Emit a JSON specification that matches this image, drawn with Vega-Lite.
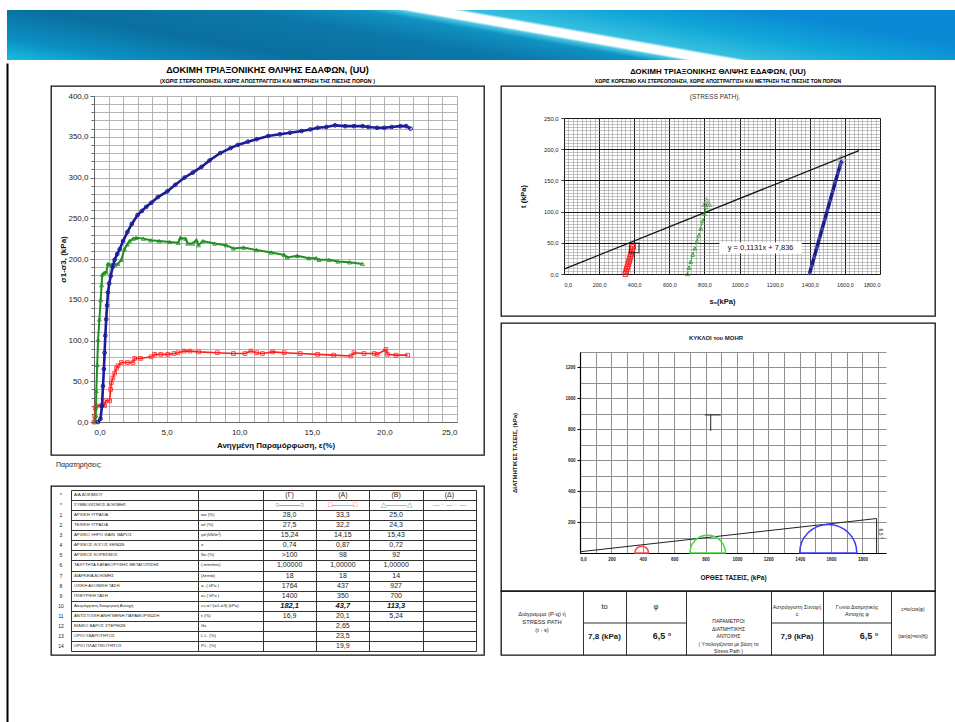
{
"$schema": "https://vega.github.io/schema/vega-lite/v6.json",
"background": "white",
"padding": {"left": 7, "top": 10, "right": 0, "bottom": 0},
"config": {
  "font": "Liberation Sans",
  "locale": {"number": {"decimal": ",", "thousands": ".", "grouping": [3], "currency": ["", " €"]}},
  "view": {"stroke": "#111", "strokeWidth": 1.3},
  "axis": {"labelColor": "#222", "titleColor": "#111"}
},
"datasets": {
  "ss": [
    {"g":"Γ","e":0.28,"q":0},{"g":"Γ","e":0.45,"q":4},{"g":"Γ","e":0.55,"q":20},{"g":"Γ","e":0.62,"q":44},{"g":"Γ","e":0.68,"q":65},{"g":"Γ","e":0.73,"q":85},{"g":"Γ","e":0.78,"q":106},{"g":"Γ","e":0.84,"q":126},{"g":"Γ","e":0.9,"q":143},{"g":"Γ","e":0.96,"q":159},{"g":"Γ","e":1.05,"q":170},{"g":"Γ","e":1.15,"q":179},{"g":"Γ","e":1.28,"q":190},{"g":"Γ","e":1.42,"q":199},{"g":"Γ","e":1.6,"q":206},{"g":"Γ","e":1.77,"q":212},{"g":"Γ","e":2.0,"q":222},{"g":"Γ","e":2.3,"q":233},{"g":"Γ","e":2.6,"q":243},{"g":"Γ","e":3.0,"q":254},{"g":"Γ","e":3.3,"q":259},{"g":"Γ","e":3.6,"q":264},{"g":"Γ","e":3.95,"q":269},{"g":"Γ","e":4.4,"q":276},{"g":"Γ","e":5.05,"q":283},{"g":"Γ","e":5.6,"q":291},{"g":"Γ","e":6.24,"q":300},{"g":"Γ","e":6.8,"q":306},{"g":"Γ","e":7.4,"q":313},{"g":"Γ","e":7.96,"q":321},{"g":"Γ","e":8.7,"q":330},{"g":"Γ","e":9.4,"q":336},{"g":"Γ","e":9.9,"q":340},{"g":"Γ","e":10.6,"q":344},{"g":"Γ","e":11.2,"q":347},{"g":"Γ","e":12.0,"q":351},{"g":"Γ","e":12.8,"q":353},{"g":"Γ","e":13.5,"q":355},{"g":"Γ","e":14.3,"q":357},{"g":"Γ","e":14.9,"q":359},{"g":"Γ","e":15.4,"q":361},{"g":"Γ","e":16.0,"q":362},{"g":"Γ","e":16.6,"q":364},{"g":"Γ","e":17.3,"q":363},{"g":"Γ","e":17.9,"q":363},{"g":"Γ","e":18.5,"q":363},{"g":"Γ","e":18.9,"q":362},{"g":"Γ","e":19.5,"q":361},{"g":"Γ","e":20.0,"q":361},{"g":"Γ","e":20.5,"q":362},{"g":"Γ","e":21.1,"q":363},{"g":"Γ","e":21.5,"q":363},{"g":"Γ","e":21.8,"q":360},
    {"g":"Β","e":0.1,"q":0},{"g":"Β","e":0.12,"q":8},{"g":"Β","e":0.16,"q":38},{"g":"Β","e":0.22,"q":70},{"g":"Β","e":0.28,"q":101},{"g":"Β","e":0.37,"q":126},{"g":"Β","e":0.46,"q":150},{"g":"Β","e":0.52,"q":168},{"g":"Β","e":0.57,"q":181},{"g":"Β","e":0.7,"q":183},{"g":"Β","e":0.85,"q":184},{"g":"Β","e":0.96,"q":194},{"g":"Β","e":1.2,"q":193},{"g":"Β","e":1.45,"q":193},{"g":"Β","e":1.65,"q":194},{"g":"Β","e":1.88,"q":199},{"g":"Β","e":2.1,"q":212},{"g":"Β","e":2.3,"q":218},{"g":"Β","e":2.45,"q":222},{"g":"Β","e":2.7,"q":225},{"g":"Β","e":2.9,"q":226},{"g":"Β","e":3.4,"q":225},{"g":"Β","e":3.9,"q":223},{"g":"Β","e":4.5,"q":222},{"g":"Β","e":5.2,"q":221},{"g":"Β","e":5.8,"q":220},{"g":"Β","e":5.95,"q":226},{"g":"Β","e":6.3,"q":225},{"g":"Β","e":6.45,"q":219},{"g":"Β","e":6.8,"q":219},{"g":"Β","e":7.05,"q":223},{"g":"Β","e":7.2,"q":217},{"g":"Β","e":7.5,"q":222},{"g":"Β","e":8.3,"q":219},{"g":"Β","e":9.1,"q":217},{"g":"Β","e":9.6,"q":213},{"g":"Β","e":10.3,"q":214},{"g":"Β","e":11.2,"q":211},{"g":"Β","e":12.2,"q":208},{"g":"Β","e":13.1,"q":205},{"g":"Β","e":13.3,"q":202},{"g":"Β","e":14.0,"q":204},{"g":"Β","e":14.8,"q":201},{"g":"Β","e":15.3,"q":201},{"g":"Β","e":15.5,"q":199},{"g":"Β","e":16.2,"q":199},{"g":"Β","e":16.8,"q":197},{"g":"Β","e":17.6,"q":196},{"g":"Β","e":18.5,"q":194},
    {"g":"Α","e":0.0,"q":0},{"g":"Α","e":0.05,"q":7},{"g":"Α","e":0.1,"q":17},{"g":"Α","e":0.16,"q":20},{"g":"Α","e":0.5,"q":20},{"g":"Α","e":0.73,"q":20},{"g":"Α","e":0.8,"q":26},{"g":"Α","e":1.08,"q":26},{"g":"Α","e":1.15,"q":40},{"g":"Α","e":1.19,"q":48},{"g":"Α","e":1.3,"q":54},{"g":"Α","e":1.42,"q":60},{"g":"Α","e":1.55,"q":66},{"g":"Α","e":1.65,"q":69},{"g":"Α","e":1.88,"q":73},{"g":"Α","e":2.3,"q":73},{"g":"Α","e":2.68,"q":73},{"g":"Α","e":2.8,"q":78},{"g":"Α","e":3.2,"q":78},{"g":"Α","e":3.94,"q":80},{"g":"Α","e":4.17,"q":83},{"g":"Α","e":4.6,"q":83},{"g":"Α","e":5.09,"q":83},{"g":"Α","e":5.5,"q":84},{"g":"Α","e":5.78,"q":85},{"g":"Α","e":6.2,"q":87},{"g":"Α","e":6.6,"q":87},{"g":"Α","e":7.2,"q":86},{"g":"Α","e":8.5,"q":85},{"g":"Α","e":9.6,"q":84},{"g":"Α","e":10.4,"q":84},{"g":"Α","e":10.8,"q":87},{"g":"Α","e":11.2,"q":85},{"g":"Α","e":11.6,"q":84},{"g":"Α","e":12.3,"q":86},{"g":"Α","e":13.1,"q":85},{"g":"Α","e":14.2,"q":84},{"g":"Α","e":15.4,"q":83},{"g":"Α","e":16.5,"q":82},{"g":"Α","e":17.7,"q":81},{"g":"Α","e":17.9,"q":85},{"g":"Α","e":18.6,"q":84},{"g":"Α","e":19.3,"q":84},{"g":"Α","e":19.5,"q":83},{"g":"Α","e":20.1,"q":89},{"g":"Α","e":20.2,"q":83},{"g":"Α","e":20.8,"q":82},{"g":"Α","e":21.6,"q":82}
  ],
  "sp": [
    {"g":"Α","s":350,"t":0},{"g":"Α","s":354,"t":4},{"g":"Α","s":358,"t":8},{"g":"Α","s":362,"t":12},{"g":"Α","s":366,"t":16},{"g":"Α","s":370,"t":20},{"g":"Α","s":374,"t":24},{"g":"Α","s":378,"t":28},{"g":"Α","s":382,"t":32},{"g":"Α","s":386,"t":36},{"g":"Α","s":390,"t":40},{"g":"Α","s":393.5,"t":43.7},
    {"g":"Β","s":703,"t":0},{"g":"Β","s":712,"t":10},{"g":"Β","s":722,"t":20},{"g":"Β","s":733,"t":31},{"g":"Β","s":745,"t":41},{"g":"Β","s":757,"t":52},{"g":"Β","s":768,"t":62},{"g":"Β","s":779,"t":73},{"g":"Β","s":790,"t":85},{"g":"Β","s":800,"t":97},{"g":"Β","s":808,"t":107},{"g":"Β","s":813.5,"t":113.3},
    {"g":"Γ","s":1398,"t":0},{"g":"Γ","s":1410,"t":12},{"g":"Γ","s":1425,"t":27},{"g":"Γ","s":1440,"t":42},{"g":"Γ","s":1455,"t":57},{"g":"Γ","s":1470,"t":72},{"g":"Γ","s":1485,"t":87},{"g":"Γ","s":1500,"t":102},{"g":"Γ","s":1515,"t":117},{"g":"Γ","s":1530,"t":132},{"g":"Γ","s":1545,"t":147},{"g":"Γ","s":1560,"t":162},{"g":"Γ","s":1572,"t":173},{"g":"Γ","s":1582,"t":182.1}
  ],
  "tblL": [
    {"k":"h1","n":"*","d":"Α/Α ΔΟΚΙΜΙΟΥ","u":"","G":"(Γ)","A":"(Α)","B":"(Β)","D":"(Δ)"},
    {"k":"h2","n":"*","d":"ΣΥΜΒΟΛΙΣΜΟΣ ΔΟΚΙΜΗΣ","u":"","G":"○———○","A":"□———□","B":"△———△","D":"— · — · —"},
    {"k":"1","n":"1","d":"ΑΡΧΙΚΗ ΥΓΡΑΣΙΑ","u":"wo   (%)","G":"28,0","A":"33,3","B":"25,0","D":""},
    {"k":"2","n":"2","d":"ΤΕΛΙΚΗ ΥΓΡΑΣΙΑ","u":"wf   (%)","G":"27,5","A":"32,2","B":"24,3","D":""},
    {"k":"3","n":"3","d":"ΑΡΧΙΚΟ ΞΗΡΟ ΦΑΙΝ. ΒΑΡΟΣ","u":"γd  (kN/m³)","G":"15,24","A":"14,15","B":"15,43","D":""},
    {"k":"4","n":"4","d":"ΑΡΧΙΚΟΣ ΛΟΓΟΣ ΚΕΝΩΝ","u":"e","G":"0,74","A":"0,87","B":"0,72","D":""},
    {"k":"5","n":"5","d":"ΑΡΧΙΚΟΣ ΚΟΡΕΣΜΟΣ","u":"So  (%)","G":">100","A":"98","B":"92","D":""},
    {"k":"6","n":"6","d":"ΤΑΧΥΤΗΤΑ ΚΑΤΑΚΟΡΥΦΗΣ ΜΕΤΑΤΟΠΙΣΗΣ","u":"( mm/min)","G":"1,00000","A":"1,00000","B":"1,00000","D":""},
    {"k":"7","n":"7","d":"ΔΙΑΡΚΕΙΑ ΔΟΚΙΜΗΣ","u":"(λεπτά)","G":"18","A":"18","B":"14","D":""},
    {"k":"8","n":"8","d":"ΟΛΙΚΗ ΑΞΟΝΙΚΗ ΤΑΣΗ","u":"σ₁ ( kPa )","G":"1764","A":"437","B":"927","D":""},
    {"k":"9","n":"9","d":"ΠΛΕΥΡΙΚΗ ΤΑΣΗ","u":"σ₃ ( kPa )","G":"1400","A":"350","B":"700","D":""},
    {"k":"10","n":"10","d":"Αστράγγιστη διατμητική Αντοχή","u":"cu =½(σ1-σ3) (kPa)","G":"182,1","A":"43,7","B":"113,3","D":""},
    {"k":"11","n":"11","d":"ΑΝΤΙΣΤΟΙΧΗ ΑΝΗΓΜΕΝΗ ΠΑΡΑΜΟΡΦΩΣΗ","u":"ε (%)","G":"16,9","A":"20,1","B":"5,24","D":""},
    {"k":"12","n":"12","d":"ΕΙΔΙΚΟ ΒΑΡΟΣ ΣΤΕΡΕΩΝ","u":"Gs","G":"","A":"2,65","B":"","D":""},
    {"k":"13","n":"13","d":"ΟΡΙΟ ΥΔΑΡΟΤΗΤΟΣ","u":"L.L.  (%)","G":"","A":"23,5","B":"","D":""},
    {"k":"14","n":"14","d":"ΟΡΙΟ ΠΛΑΣΤΙΚΟΤΗΤΟΣ","u":"P.L.  (%)","G":"","A":"19,9","B":"","D":""}
  ]
},
"spacing": 0,
"resolve": {"scale": {"color": "independent", "shape": "independent", "radius": "independent"}},
"vconcat": [
  {
    "width": 948, "height": 50,
    "view": {"stroke": null},
    "data": {"values": [{}]},
    "mark": {"type": "rect", "color": {"gradient": "linear", "x1": 0, "y1": 1, "x2": 1, "y2": 0.7, "stops": [
      {"offset": 0, "color": "#14bfe0"}, {"offset": 0.12, "color": "#0b8fc3"}, {"offset": 0.3, "color": "#0a6f9f"}, {"offset": 0.5, "color": "#0c78aa"}, {"offset": 0.62, "color": "#0f92c2"}, {"offset": 0.652, "color": "#49c6e4"}, {"offset": 0.665, "color": "#ffffff"}, {"offset": 0.705, "color": "#ffffff"}, {"offset": 0.72, "color": "#34bfdf"}, {"offset": 0.85, "color": "#11a6d8"}, {"offset": 1, "color": "#0a8ad4"}]}},
    "encoding": {}
  },
  {
    "resolve": {"scale": {"color": "independent", "shape": "independent", "radius": "independent"}},
    "hconcat": [
      {
        "width": 28, "height": 662,
        "view": {"stroke": null},
        "data": {"values": [{"v": 0}, {"v": 1}]},
        "mark": {"type": "point", "opacity": 0},
        "encoding": {"y": {"field": "v", "type": "quantitative", "axis": {"domain": true, "domainColor": "#000", "domainWidth": 2, "labels": false, "ticks": false, "grid": false, "title": null}}}
      },
      {
        "resolve": {"scale": {"color": "independent", "shape": "independent", "radius": "independent"}},
        "vconcat": [
          {
            "width": 433, "height": 23,
            "data": {"values": [{}]},
            "layer": [
              {"mark": {"type": "text", "text": "ΔΟΚΙΜΗ ΤΡΙΑΞΟΝΙΚΗΣ ΘΛΙΨΗΣ ΕΔΑΦΩΝ, (UU)", "fontSize": 9, "fontWeight": "bold", "dy": -4.5}, "encoding": {}},
              {"mark": {"type": "text", "text": "(ΧΩΡΙΣ ΣΤΕΡΕΟΠΟΙΗΣΗ, ΧΩΡΙΣ ΑΠΟΣΤΡΑΓΓΙΣΗ ΚΑΙ ΜΕΤΡΗΣΗ ΤΗΣ ΠΙΕΣΗΣ ΠΟΡΩΝ )", "fontSize": 5.3, "fontWeight": "bold", "dy": 6.5}, "encoding": {}}
            ]
          },
          {
            "width": 433, "height": 369,
            "data": {"name": "ss"},
            "resolve": {"axis": {"x": "independent", "y": "independent"}},
            "layer": [
              {
                "mark": {"type": "point", "opacity": 0},
                "encoding": {
                  "x": {"field": "e", "type": "quantitative", "scale": {"domain": [0, 25], "range": [43, 406], "nice": false, "zero": false},
                        "axis": {"orient": "top", "values": [0,1,2,3,4,5,6,7,8,9,10,11,12,13,14,15,16,17,18,19,20,21,22,23,24,25], "grid": true, "gridColor": "#ababab", "gridWidth": 0.9, "labels": false, "ticks": false, "domain": false, "title": null}},
                  "y": {"field": "q", "type": "quantitative", "scale": {"domain": [0, 400], "range": [336, 10], "nice": false, "zero": false},
                        "axis": {"orient": "left", "offset": -43, "values": [0,10,20,30,40,50,60,70,80,90,100,110,120,130,140,150,160,170,180,190,200,210,220,230,240,250,260,270,280,290,300,310,320,330,340,350,360,370,380,390,400], "grid": true, "gridColor": "#ababab", "gridWidth": 0.9, "labels": false, "ticks": true, "tickSize": 3, "tickColor": "#666", "domain": false, "title": null}}
                }
              },
              {
                "mark": {"type": "point", "opacity": 0},
                "encoding": {
                  "x": {"field": "e", "type": "quantitative", "scale": {"domain": [0, 25], "range": [43, 406], "nice": false, "zero": false},
                        "axis": {"orient": "bottom", "offset": -33, "values": [0,5,10,15,20,25], "format": ".1f", "labelFontSize": 8, "ticks": false, "labelPadding": 6, "domainColor": "#666", "grid": false, "title": "Ανηγμένη Παραμόρφωση, ε(%)", "titleFontSize": 8, "titleFontWeight": "bold", "titlePadding": 5}},
                  "y": {"field": "q", "type": "quantitative", "scale": {"domain": [0, 400], "range": [336, 10], "nice": false, "zero": false},
                        "axis": {"orient": "left", "offset": -43, "values": [0,50,100,150,200,250,300,350,400], "format": ".1f", "labelFontSize": 8, "tickSize": 4, "tickColor": "#666", "labelPadding": 2, "domainColor": "#666", "grid": false, "title": "σ1-σ3, (kPa)", "titleFontSize": 8, "titleFontWeight": "bold", "titleX": -27}}
                }
              },
              {
                "transform": [{"filter": "datum.g === 'Α'"}],
                "mark": {"type": "line", "color": "#ff1f1f", "strokeWidth": 1.6, "point": {"shape": "square", "filled": false, "size": 14, "color": "#ff1f1f", "strokeWidth": 0.8}},
                "encoding": {
                  "x": {"field": "e", "type": "quantitative", "scale": {"domain": [0, 25], "range": [43, 406], "nice": false, "zero": false}, "axis": null},
                  "y": {"field": "q", "type": "quantitative", "scale": {"domain": [0, 400], "range": [336, 10], "nice": false, "zero": false}, "axis": null}
                }
              },
              {
                "transform": [{"filter": "datum.g === 'Β'"}],
                "mark": {"type": "line", "color": "#1f8f1f", "strokeWidth": 2, "point": {"shape": "triangle-up", "filled": false, "size": 16, "color": "#1f8f1f", "strokeWidth": 0.8}},
                "encoding": {
                  "x": {"field": "e", "type": "quantitative", "scale": {"domain": [0, 25], "range": [43, 406], "nice": false, "zero": false}, "axis": null},
                  "y": {"field": "q", "type": "quantitative", "scale": {"domain": [0, 400], "range": [336, 10], "nice": false, "zero": false}, "axis": null}
                }
              },
              {
                "transform": [{"filter": "datum.g === 'Γ'"}],
                "mark": {"type": "line", "color": "#1c1c96", "strokeWidth": 2.6, "point": {"shape": "circle", "filled": false, "size": 14, "color": "#1c1c96", "strokeWidth": 1}},
                "encoding": {
                  "x": {"field": "e", "type": "quantitative", "scale": {"domain": [0, 25], "range": [43, 406], "nice": false, "zero": false}, "axis": null},
                  "y": {"field": "q", "type": "quantitative", "scale": {"domain": [0, 400], "range": [336, 10], "nice": false, "zero": false}, "axis": null}
                }
              }
            ]
          },
          {
            "width": 433, "height": 31,
            "data": {"values": [{}]},
            "mark": {"type": "text", "text": "Παρατηρήσεις:", "align": "left", "fontSize": 7, "dx": -211.5, "dy": -5.5, "color": "#222"},
            "encoding": {}
          },
          {
            "width": 433, "height": 169,
            "data": {"name": "tblL"},
            "resolve": {"scale": {"x": "independent"}, "axis": {"x": "independent", "y": "independent"}},
            "layer": [
              {
                "mark": {"type": "text", "fontSize": 5, "dx": -10, "color": "#222"},
                "encoding": {
                  "x": {"datum": 0, "type": "quantitative", "scale": {"domain": [0,1,2,3,4,5,6], "range": [20,147,212,265,318,372,425], "nice": false, "zero": false},
                        "axis": {"orient": "top", "values": [0,1,2,3,4,5,6], "grid": true, "gridColor": "#333", "gridWidth": 1, "labels": false, "ticks": false, "domain": false, "title": null}},
                  "y": {"field": "k", "type": "nominal", "scale": {"type": "band", "domain": ["h1","h2","1","2","3","4","5","6","7","8","9","10","11","12","13","14"], "range": [4, 165], "paddingInner": 0, "paddingOuter": 0},
                        "axis": {"orient": "left", "tickBand": "extent", "grid": true, "gridColor": "#333", "gridWidth": 1, "labels": false, "ticks": false, "domain": false, "title": null}},
                  "text": {"field": "n"}
                }
              },
              {
                "mark": {"type": "text", "fontSize": 4.3, "align": "left", "dx": 3, "color": "#222"},
                "encoding": {
                  "x": {"datum": 0, "type": "quantitative", "scale": {"domain": [0,1,2,3,4,5,6], "range": [20,147,212,265,318,372,425], "nice": false, "zero": false}, "axis": null},
                  "y": {"field": "k", "type": "nominal", "scale": {"type": "band", "domain": ["h1","h2","1","2","3","4","5","6","7","8","9","10","11","12","13","14"], "range": [4, 165], "paddingInner": 0, "paddingOuter": 0}, "axis": null},
                  "text": {"field": "d"}
                }
              },
              {
                "mark": {"type": "text", "fontSize": 4.3, "align": "left", "dx": 3, "color": "#222"},
                "encoding": {
                  "x": {"datum": 1, "type": "quantitative", "scale": {"domain": [0,1,2,3,4,5,6], "range": [20,147,212,265,318,372,425], "nice": false, "zero": false}, "axis": null},
                  "y": {"field": "k", "type": "nominal", "scale": {"type": "band", "domain": ["h1","h2","1","2","3","4","5","6","7","8","9","10","11","12","13","14"], "range": [4, 165], "paddingInner": 0, "paddingOuter": 0}, "axis": null},
                  "text": {"field": "u"}
                }
              },
              {
                "transform": [{"fold": ["G","A","B","D"], "as": ["key","val"]}, {"filter": "datum.k !== '10'"}],
                "mark": {"type": "text", "fontSize": 7},
                "encoding": {
                  "x": {"field": "key", "type": "nominal", "scale": {"type": "band", "domain": ["G","A","B","D"], "range": [212, 425], "paddingInner": 0, "paddingOuter": 0}, "axis": null},
                  "y": {"field": "k", "type": "nominal", "scale": {"type": "band", "domain": ["h1","h2","1","2","3","4","5","6","7","8","9","10","11","12","13","14"], "range": [4, 165], "paddingInner": 0, "paddingOuter": 0}, "axis": null},
                  "text": {"field": "val"},
                  "color": {"condition": {"test": "datum.k === 'h2'", "field": "key", "type": "nominal", "scale": {"domain": ["G","A","B","D"], "range": ["#3a3ad0","#ff3030","#30a030","#9a9a9a"]}, "legend": null}, "value": "#222"}
                }
              },
              {
                "transform": [{"fold": ["G","A","B"], "as": ["key","val"]}, {"filter": "datum.k === '10'"}],
                "mark": {"type": "text", "fontSize": 7.5, "fontWeight": "bold", "fontStyle": "italic", "color": "#111"},
                "encoding": {
                  "x": {"field": "key", "type": "nominal", "scale": {"type": "band", "domain": ["G","A","B","D"], "range": [212, 425], "paddingInner": 0, "paddingOuter": 0}, "axis": null},
                  "y": {"field": "k", "type": "nominal", "scale": {"type": "band", "domain": ["h1","h2","1","2","3","4","5","6","7","8","9","10","11","12","13","14"], "range": [4, 165], "paddingInner": 0, "paddingOuter": 0}, "axis": null},
                  "text": {"field": "val"}
                }
              }
            ]
          }
        ],
        "spacing": 0,
        "bounds": "flush"
      },
      {
        "resolve": {"scale": {"color": "independent", "shape": "independent", "radius": "independent"}},
        "vconcat": [
          {
            "width": 434, "height": 4,
            "view": {"stroke": null},
            "data": {"values": []},
            "mark": "point",
            "encoding": {}
          },
          {
            "width": 434, "height": 19,
            "data": {"values": [{}]},
            "layer": [
              {"mark": {"type": "text", "text": "ΔΟΚΙΜΗ ΤΡΙΑΞΟΝΙΚΗΣ ΘΛΙΨΗΣ ΕΔΑΦΩΝ, (UU)", "fontSize": 7.8, "fontWeight": "bold", "dy": -4.5}, "encoding": {}},
              {"mark": {"type": "text", "text": "ΧΩΡΙΣ ΚΟΡΕΣΜΟ ΚΑΙ ΣΤΕΡΕΟΠΟΙΗΣΗ, ΧΩΡΙΣ ΑΠΟΣΤΡΑΓΓΙΣΗ ΚΑΙ ΜΕΤΡΗΣΗ ΤΗΣ ΠΙΕΣΗΣ ΤΩΝ ΠΟΡΩΝ", "fontSize": 5, "fontWeight": "bold", "dy": 4}, "encoding": {}}
            ]
          },
          {
            "width": 434, "height": 230,
            "resolve": {"axis": {"x": "independent", "y": "independent"}},
            "layer": [
              {
                "data": {"name": "sp"},
                "mark": {"type": "point", "opacity": 0},
                "encoding": {
                  "x": {"field": "s", "type": "quantitative", "scale": {"domain": [0, 1800], "range": [63, 379], "nice": false, "zero": false},
                        "axis": {"orient": "top", "values": [0,25,50,75,100,125,150,175,200,225,250,275,300,325,350,375,400,425,450,475,500,525,550,575,600,625,650,675,700,725,750,775,800,825,850,875,900,925,950,975,1000,1025,1050,1075,1100,1125,1150,1175,1200,1225,1250,1275,1300,1325,1350,1375,1400,1425,1450,1475,1500,1525,1550,1575,1600,1625,1650,1675,1700,1725,1750,1775,1800], "grid": true, "gridColor": "#8c8c8c", "gridWidth": 0.5, "labels": false, "ticks": false, "domain": false, "title": null}},
                  "y": {"field": "t", "type": "quantitative", "scale": {"domain": [0, 250], "range": [188, 32], "nice": false, "zero": false},
                        "axis": {"orient": "left", "values": [0,5,10,15,20,25,30,35,40,45,50,55,60,65,70,75,80,85,90,95,100,105,110,115,120,125,130,135,140,145,150,155,160,165,170,175,180,185,190,195,200,205,210,215,220,225,230,235,240,245,250], "grid": true, "gridColor": "#8c8c8c", "gridWidth": 0.5, "labels": false, "ticks": false, "domain": false, "title": null}}
                }
              },
              {
                "data": {"name": "sp"},
                "mark": {"type": "point", "opacity": 0},
                "encoding": {
                  "x": {"field": "s", "type": "quantitative", "scale": {"domain": [0, 1800], "range": [63, 379], "nice": false, "zero": false},
                        "axis": {"orient": "top", "values": [0,200,400,600,800,1000,1200,1400,1600,1800], "grid": true, "gridColor": "#1a1a1a", "gridWidth": 1, "labels": false, "ticks": false, "domain": false, "title": null}},
                  "y": {"field": "t", "type": "quantitative", "scale": {"domain": [0, 250], "range": [188, 32], "nice": false, "zero": false},
                        "axis": {"orient": "left", "offset": -63, "values": [0,50,100,150,200,250], "format": ".1f", "grid": true, "gridColor": "#1a1a1a", "gridWidth": 1, "labelFontSize": 5.8, "tickSize": 3, "tickColor": "#333", "labelPadding": 3, "domain": false, "title": "t (kPa)", "titleFontSize": 7.5, "titleFontWeight": "bold", "titleX": -37}}
                }
              },
              {
                "data": {"name": "sp"},
                "mark": {"type": "point", "opacity": 0},
                "encoding": {
                  "x": {"field": "s", "type": "quantitative", "scale": {"domain": [0, 1800], "range": [63, 379], "nice": false, "zero": false},
                        "axis": {"orient": "bottom", "offset": -42, "values": [0,200,400,600,800,1000,1200,1400,1600,1800], "format": ".1f", "labelFontSize": 5.5, "ticks": false, "labelPadding": 8, "domain": false, "grid": false, "title": "s₀(kPa)", "titleFontSize": 7.5, "titleFontWeight": "bold", "titlePadding": 10}},
                  "y": {"field": "t", "type": "quantitative", "scale": {"domain": [0, 250], "range": [188, 32], "nice": false, "zero": false}, "axis": null}
                }
              },
              {
                "data": {"values": [{"s": 0, "t": 7.8}, {"s": 1680, "t": 197.8}]},
                "mark": {"type": "line", "color": "#111", "strokeWidth": 1.2},
                "encoding": {
                  "x": {"field": "s", "type": "quantitative", "scale": {"domain": [0, 1800], "range": [63, 379], "nice": false, "zero": false}, "axis": null},
                  "y": {"field": "t", "type": "quantitative", "scale": {"domain": [0, 250], "range": [188, 32], "nice": false, "zero": false}, "axis": null}
                }
              },
              {
                "data": {"values": [{}]},
                "mark": {"type": "rect", "fill": "white"},
                "encoding": {
                  "x": {"datum": 885, "type": "quantitative", "scale": {"domain": [0, 1800], "range": [63, 379], "nice": false, "zero": false}, "axis": null},
                  "x2": {"datum": 1355},
                  "y": {"datum": 33, "type": "quantitative", "scale": {"domain": [0, 250], "range": [188, 32], "nice": false, "zero": false}, "axis": null},
                  "y2": {"datum": 51}
                }
              },
              {
                "data": {"values": [{"s": 1120, "t": 42, "label": "y = 0,1131x + 7,836"}]},
                "mark": {"type": "text", "fontSize": 7.5, "color": "#111"},
                "encoding": {
                  "x": {"field": "s", "type": "quantitative", "scale": {"domain": [0, 1800], "range": [63, 379], "nice": false, "zero": false}, "axis": null},
                  "y": {"field": "t", "type": "quantitative", "scale": {"domain": [0, 250], "range": [188, 32], "nice": false, "zero": false}, "axis": null},
                  "text": {"field": "label"}
                }
              },
              {
                "data": {"name": "sp"},
                "transform": [{"filter": "datum.g === 'Α'"}],
                "mark": {"type": "line", "color": "#ff2020", "strokeWidth": 1.5, "point": {"shape": "square", "filled": false, "size": 22, "color": "#ff2020", "strokeWidth": 1}},
                "encoding": {
                  "x": {"field": "s", "type": "quantitative", "scale": {"domain": [0, 1800], "range": [63, 379], "nice": false, "zero": false}, "axis": null},
                  "y": {"field": "t", "type": "quantitative", "scale": {"domain": [0, 250], "range": [188, 32], "nice": false, "zero": false}, "axis": null}
                }
              },
              {
                "data": {"name": "sp"},
                "transform": [{"filter": "datum.g === 'Β'"}],
                "mark": {"type": "line", "color": "#2a9a2a", "strokeWidth": 1, "strokeDash": [3, 2], "point": {"shape": "triangle-up", "filled": false, "size": 16, "color": "#2a9a2a", "strokeWidth": 0.8}},
                "encoding": {
                  "x": {"field": "s", "type": "quantitative", "scale": {"domain": [0, 1800], "range": [63, 379], "nice": false, "zero": false}, "axis": null},
                  "y": {"field": "t", "type": "quantitative", "scale": {"domain": [0, 250], "range": [188, 32], "nice": false, "zero": false}, "axis": null}
                }
              },
              {
                "data": {"name": "sp"},
                "transform": [{"filter": "datum.g === 'Γ'"}],
                "mark": {"type": "line", "color": "#1a1a8c", "strokeWidth": 3.5, "point": {"shape": "circle", "filled": false, "size": 6, "color": "#7d7dc8", "strokeWidth": 0.6}},
                "encoding": {
                  "x": {"field": "s", "type": "quantitative", "scale": {"domain": [0, 1800], "range": [63, 379], "nice": false, "zero": false}, "axis": null},
                  "y": {"field": "t", "type": "quantitative", "scale": {"domain": [0, 250], "range": [188, 32], "nice": false, "zero": false}, "axis": null}
                }
              },
              {
                "data": {"values": [{"g": "Α", "s": 400, "t": 42}, {"g": "Β", "s": 813.5, "t": 115}, {"g": "Γ", "s": 1582, "t": 183}]},
                "mark": {"type": "point", "filled": false, "size": 90, "strokeWidth": 1.2},
                "encoding": {
                  "x": {"field": "s", "type": "quantitative", "scale": {"domain": [0, 1800], "range": [63, 379], "nice": false, "zero": false}, "axis": null},
                  "y": {"field": "t", "type": "quantitative", "scale": {"domain": [0, 250], "range": [188, 32], "nice": false, "zero": false}, "axis": null},
                  "shape": {"field": "g", "type": "nominal", "scale": {"domain": ["Α","Β","Γ"], "range": ["square","triangle-up","diamond"]}, "legend": null},
                  "color": {"field": "g", "type": "nominal", "scale": {"domain": ["Α","Β","Γ"], "range": ["#111","#888","#888"]}, "legend": null}
                }
              },
              {
                "data": {"values": [{}]},
                "mark": {"type": "text", "text": "(STRESS PATH),", "fontSize": 6.5, "color": "#333", "dx": -3, "dy": -104},
                "encoding": {}
              }
            ]
          },
          {
            "width": 434, "height": 7,
            "view": {"stroke": null},
            "data": {"values": []},
            "mark": "point",
            "encoding": {}
          },
          {
            "width": 434, "height": 268,
            "resolve": {"axis": {"x": "independent", "y": "independent"}},
            "layer": [
              {
                "data": {"values": [{}]},
                "mark": {"type": "point", "opacity": 0},
                "encoding": {
                  "x": {"datum": 0, "type": "quantitative", "scale": {"domain": [0, 1950], "range": [79, 385], "nice": false, "zero": false},
                        "axis": {"orient": "top", "values": [0,100,200,300,400,500,600,700,800,900,1000,1100,1200,1300,1400,1500,1600,1700,1800,1900], "grid": true, "gridColor": "#8f8f8f", "gridWidth": 1, "labels": false, "ticks": false, "domain": false, "title": null}},
                  "y": {"datum": 0, "type": "quantitative", "scale": {"domain": [0, 1300], "range": [230, 29], "nice": false, "zero": false},
                        "axis": {"orient": "left", "values": [0,100,200,300,400,500,600,700,800,900,1000,1100,1200,1300], "grid": true, "gridColor": "#8f8f8f", "gridWidth": 1, "labels": false, "ticks": false, "domain": false, "title": null}}
                }
              },
              {
                "data": {"values": [{}]},
                "mark": {"type": "point", "opacity": 0},
                "encoding": {
                  "x": {"datum": 0, "type": "quantitative", "scale": {"domain": [0, 1950], "range": [79, 385], "nice": false, "zero": false},
                        "axis": {"orient": "bottom", "offset": -38, "values": [0,200,400,600,800,1000,1200,1400,1600,1800], "format": "d", "labelExpr": "datum.value === 0 ? '0,0' : datum.label", "labelFontSize": 4.5, "labelFontWeight": "bold", "ticks": false, "labelPadding": 3, "domainColor": "#000", "domainWidth": 1.2, "grid": false, "title": "ΟΡΘΕΣ ΤΑΣΕΙΣ, (kPa)", "titleFontSize": 6.5, "titleFontWeight": "bold", "titlePadding": 14}},
                  "y": {"datum": 0, "type": "quantitative", "scale": {"domain": [0, 1300], "range": [230, 29], "nice": false, "zero": false},
                        "axis": {"orient": "left", "offset": -79, "values": [200,400,600,800,1000,1200], "format": "d", "labelFontSize": 4.5, "labelFontWeight": "bold", "tickSize": 3, "tickColor": "#000", "labelPadding": 2, "domainColor": "#000", "domainWidth": 1.2, "grid": false, "title": "ΔΙΑΤΜΗΤΙΚΕΣ ΤΑΣΕΙΣ, (kPa)", "titleFontSize": 6, "titleFontWeight": "bold", "titleX": -63}}
                }
              },
              {
                "data": {"values": [{"x": 0, "y": 7.9}, {"x": 1890, "y": 223}]},
                "mark": {"type": "line", "color": "#222", "strokeWidth": 1},
                "encoding": {
                  "x": {"field": "x", "type": "quantitative", "scale": {"domain": [0, 1950], "range": [79, 385], "nice": false, "zero": false}, "axis": null},
                  "y": {"field": "y", "type": "quantitative", "scale": {"domain": [0, 1300], "range": [230, 29], "nice": false, "zero": false}, "axis": null}
                }
              },
              {
                "data": {"values": [{"x": 1890, "y": 0, "y2": 223}, {"x": 795, "x2": 897, "y": 893, "y2": 893}, {"x": 833, "x2": 833, "y": 893, "y2": 790}]},
                "mark": {"type": "rule", "color": "#222", "strokeWidth": 1},
                "encoding": {
                  "x": {"field": "x", "type": "quantitative", "scale": {"domain": [0, 1950], "range": [79, 385], "nice": false, "zero": false}, "axis": null},
                  "x2": {"field": "x2"},
                  "y": {"field": "y", "type": "quantitative", "scale": {"domain": [0, 1300], "range": [230, 29], "nice": false, "zero": false}, "axis": null},
                  "y2": {"field": "y2"}
                }
              },
              {
                "data": {"values": [{"g": "Γ", "c": 1582, "r": 182.1}, {"g": "Α", "c": 393.5, "r": 43.7}, {"g": "Β", "c": 813.5, "r": 113.3}]},
                "mark": {"type": "arc", "theta": -1.5708, "theta2": 1.5708, "filled": false, "strokeWidth": 1.5},
                "encoding": {
                  "x": {"field": "c", "type": "quantitative", "stack": null, "scale": {"domain": [0, 1950], "range": [79, 385], "nice": false, "zero": false}, "axis": null},
                  "y": {"datum": 0, "type": "quantitative", "scale": {"domain": [0, 1300], "range": [230, 29], "nice": false, "zero": false}, "axis": null},
                  "radius": {"field": "r", "type": "quantitative", "stack": null, "scale": {"type": "linear", "domain": [0, 1950], "range": [0, 306], "zero": true, "nice": false}},
                  "color": {"field": "g", "type": "nominal", "scale": {"domain": ["Γ","Α","Β"], "range": ["#3b3bff","#ff4a4a","#3ddc3d"]}, "legend": null}
                }
              },
              {
                "data": {"values": [{"x": 1918, "y": 125, "label": "6,5 °"}]},
                "mark": {"type": "text", "fontSize": 5, "angle": 90, "color": "#222"},
                "encoding": {
                  "x": {"field": "x", "type": "quantitative", "scale": {"domain": [0, 1950], "range": [79, 385], "nice": false, "zero": false}, "axis": null},
                  "y": {"field": "y", "type": "quantitative", "scale": {"domain": [0, 1300], "range": [230, 29], "nice": false, "zero": false}, "axis": null},
                  "text": {"field": "label"}
                }
              },
              {
                "data": {"values": [{}]},
                "mark": {"type": "text", "text": "ΚΥΚΛΟΙ του MOHR", "fontSize": 6, "fontWeight": "bold", "color": "#222", "dx": -2, "dy": -119},
                "encoding": {}
              }
            ]
          },
          {
            "width": 434, "height": 64,
            "data": {"values": [
              {"r": "h", "to": "to", "phi": "φ", "c": ["Αστράγγιστη Συνοχή", "c"], "ang": ["Γωνία Διατμητικής", "Αντοχής φ"], "f": "c=to/cos(φ)"},
              {"r": "v", "to": "7,8 (kPa)", "phi": "6,5 °", "c": "7,9 (kPa)", "ang": "6,5 °", "f": "(tan(φ)=sin(θ))"}
            ]},
            "resolve": {"axis": {"x": "independent", "y": "independent"}},
            "layer": [
              {
                "transform": [{"filter": "datum.r === 'h'"}],
                "mark": {"type": "text", "text": ["Διάγραμμα (P-q) ή", "STRESS PATH", "(t - s)"], "fontSize": 5.8, "color": "#222"},
                "encoding": {
                  "x": {"datum": 0.5, "type": "quantitative", "scale": {"domain": [0,1,2,3,4,5,6,7], "range": [0,82,125,185,270,322,390,434], "nice": false, "zero": false},
                        "axis": {"orient": "top", "values": [1,2,3,4,5,6], "grid": true, "gridColor": "#333", "gridWidth": 1, "labels": false, "ticks": false, "domain": false, "title": null}},
                  "y": {"datum": 0.72, "type": "quantitative", "scale": {"domain": [0, 2], "range": [0, 64], "nice": false, "zero": false}, "axis": null}
                }
              },
              {
                "transform": [{"filter": "datum.r === 'h'"}],
                "mark": {"type": "rule", "color": "#333", "strokeWidth": 1},
                "encoding": {
                  "x": {"datum": 1, "type": "quantitative", "scale": {"domain": [0,1,2,3,4,5,6,7], "range": [0,82,125,185,270,322,390,434], "nice": false, "zero": false}, "axis": null},
                  "x2": {"datum": 3},
                  "y": {"datum": 1, "type": "quantitative", "scale": {"domain": [0, 2], "range": [0, 64], "nice": false, "zero": false}, "axis": null}
                }
              },
              {
                "transform": [{"filter": "datum.r === 'h'"}],
                "mark": {"type": "rule", "color": "#333", "strokeWidth": 1},
                "encoding": {
                  "x": {"datum": 4, "type": "quantitative", "scale": {"domain": [0,1,2,3,4,5,6,7], "range": [0,82,125,185,270,322,390,434], "nice": false, "zero": false}, "axis": null},
                  "x2": {"datum": 6},
                  "y": {"datum": 1, "type": "quantitative", "scale": {"domain": [0, 2], "range": [0, 64], "nice": false, "zero": false}, "axis": null}
                }
              },
              {
                "transform": [{"filter": "datum.r === 'h'"}],
                "mark": {"type": "text", "text": ["ΠΑΡΑΜΕΤΡΟΙ", "ΔΙΑΤΜΗΤΙΚΗΣ", "ΑΝΤΟΧΗΣ", "( Υπολογίζονται με βάση το", "Stress Path )"], "fontSize": 5, "lineHeight": 7.5, "color": "#222"},
                "encoding": {
                  "x": {"datum": 3.5, "type": "quantitative", "scale": {"domain": [0,1,2,3,4,5,6,7], "range": [0,82,125,185,270,322,390,434], "nice": false, "zero": false}, "axis": null},
                  "y": {"datum": 0.95, "type": "quantitative", "scale": {"domain": [0, 2], "range": [0, 64], "nice": false, "zero": false}, "axis": null}
                }
              },
              {
                "transform": [{"filter": "datum.r === 'h'"}],
                "layer": [
                  {"mark": {"type": "text", "fontSize": 7.5, "color": "#222"}, "encoding": {"x": {"datum": 1.5, "type": "quantitative", "scale": {"domain": [0,1,2,3,4,5,6,7], "range": [0,82,125,185,270,322,390,434], "nice": false, "zero": false}, "axis": null}, "y": {"datum": 0.5, "type": "quantitative", "scale": {"domain": [0, 2], "range": [0, 64], "nice": false, "zero": false}, "axis": null}, "text": {"field": "to"}}},
                  {"mark": {"type": "text", "fontSize": 7.5, "color": "#222"}, "encoding": {"x": {"datum": 2.5, "type": "quantitative", "scale": {"domain": [0,1,2,3,4,5,6,7], "range": [0,82,125,185,270,322,390,434], "nice": false, "zero": false}, "axis": null}, "y": {"datum": 0.5, "type": "quantitative", "scale": {"domain": [0, 2], "range": [0, 64], "nice": false, "zero": false}, "axis": null}, "text": {"field": "phi"}}},
                  {"mark": {"type": "text", "fontSize": 5.3, "color": "#222"}, "encoding": {"x": {"datum": 4.5, "type": "quantitative", "scale": {"domain": [0,1,2,3,4,5,6,7], "range": [0,82,125,185,270,322,390,434], "nice": false, "zero": false}, "axis": null}, "y": {"datum": 0.5, "type": "quantitative", "scale": {"domain": [0, 2], "range": [0, 64], "nice": false, "zero": false}, "axis": null}, "text": {"field": "c"}}},
                  {"mark": {"type": "text", "fontSize": 5.3, "color": "#222"}, "encoding": {"x": {"datum": 5.5, "type": "quantitative", "scale": {"domain": [0,1,2,3,4,5,6,7], "range": [0,82,125,185,270,322,390,434], "nice": false, "zero": false}, "axis": null}, "y": {"datum": 0.5, "type": "quantitative", "scale": {"domain": [0, 2], "range": [0, 64], "nice": false, "zero": false}, "axis": null}, "text": {"field": "ang"}}},
                  {"mark": {"type": "text", "fontSize": 4.6, "color": "#222"}, "encoding": {"x": {"datum": 6.5, "type": "quantitative", "scale": {"domain": [0,1,2,3,4,5,6,7], "range": [0,82,125,185,270,322,390,434], "nice": false, "zero": false}, "axis": null}, "y": {"datum": 0.6, "type": "quantitative", "scale": {"domain": [0, 2], "range": [0, 64], "nice": false, "zero": false}, "axis": null}, "text": {"field": "f"}}}
                ]
              },
              {
                "transform": [{"filter": "datum.r === 'v'"}],
                "layer": [
                  {"mark": {"type": "text", "fontSize": 8, "fontWeight": "bold", "color": "#222"}, "encoding": {"x": {"datum": 1.5, "type": "quantitative", "scale": {"domain": [0,1,2,3,4,5,6,7], "range": [0,82,125,185,270,322,390,434], "nice": false, "zero": false}, "axis": null}, "y": {"datum": 1.45, "type": "quantitative", "scale": {"domain": [0, 2], "range": [0, 64], "nice": false, "zero": false}, "axis": null}, "text": {"field": "to"}}},
                  {"mark": {"type": "text", "fontSize": 9, "fontWeight": "bold", "color": "#222", "dx": 6}, "encoding": {"x": {"datum": 2.5, "type": "quantitative", "scale": {"domain": [0,1,2,3,4,5,6,7], "range": [0,82,125,185,270,322,390,434], "nice": false, "zero": false}, "axis": null}, "y": {"datum": 1.4, "type": "quantitative", "scale": {"domain": [0, 2], "range": [0, 64], "nice": false, "zero": false}, "axis": null}, "text": {"field": "phi"}}},
                  {"mark": {"type": "text", "fontSize": 8, "fontWeight": "bold", "color": "#222"}, "encoding": {"x": {"datum": 4.5, "type": "quantitative", "scale": {"domain": [0,1,2,3,4,5,6,7], "range": [0,82,125,185,270,322,390,434], "nice": false, "zero": false}, "axis": null}, "y": {"datum": 1.45, "type": "quantitative", "scale": {"domain": [0, 2], "range": [0, 64], "nice": false, "zero": false}, "axis": null}, "text": {"field": "c"}}},
                  {"mark": {"type": "text", "fontSize": 9, "fontWeight": "bold", "color": "#222", "dx": 12}, "encoding": {"x": {"datum": 5.5, "type": "quantitative", "scale": {"domain": [0,1,2,3,4,5,6,7], "range": [0,82,125,185,270,322,390,434], "nice": false, "zero": false}, "axis": null}, "y": {"datum": 1.4, "type": "quantitative", "scale": {"domain": [0, 2], "range": [0, 64], "nice": false, "zero": false}, "axis": null}, "text": {"field": "ang"}}},
                  {"mark": {"type": "text", "fontSize": 4.6, "color": "#222"}, "encoding": {"x": {"datum": 6.5, "type": "quantitative", "scale": {"domain": [0,1,2,3,4,5,6,7], "range": [0,82,125,185,270,322,390,434], "nice": false, "zero": false}, "axis": null}, "y": {"datum": 1.45, "type": "quantitative", "scale": {"domain": [0, 2], "range": [0, 64], "nice": false, "zero": false}, "axis": null}, "text": {"field": "f"}}}
                ]
              }
            ]
          }
        ],
        "spacing": 0,
        "bounds": "flush"
      }
    ],
    "spacing": 15
  }
]
}
